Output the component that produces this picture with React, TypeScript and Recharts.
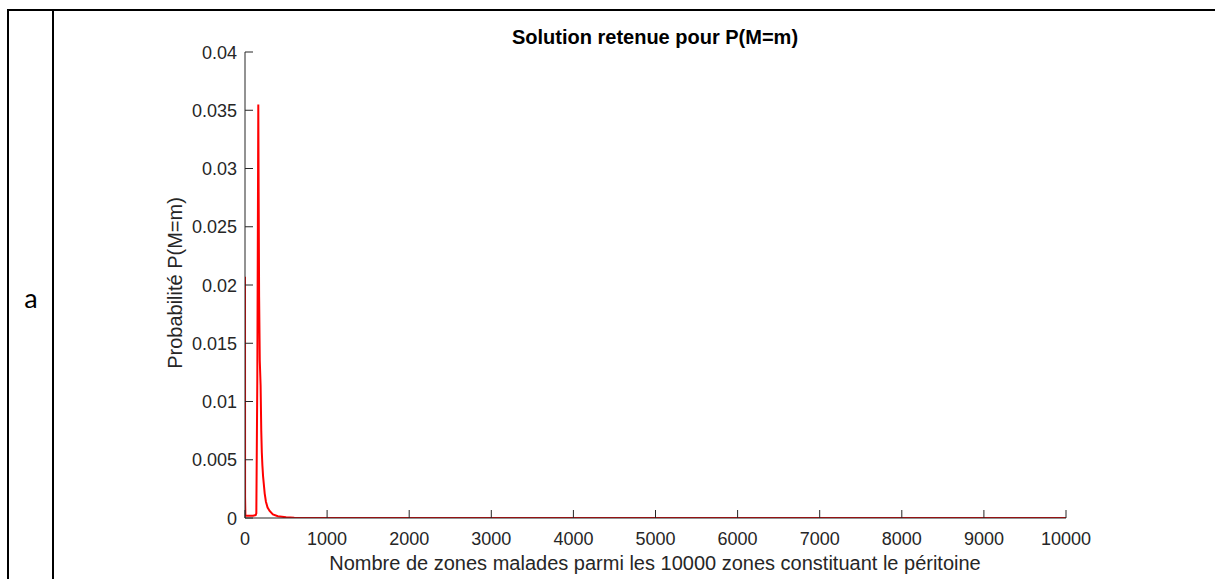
import React from 'react';
import { LineChart, Line, XAxis, YAxis } from 'recharts';

const mValues = [0, 1, 5, 30, 60, 100, 130, 138, 150, 162, 166, 172, 180, 190, 198, 205, 212, 220, 228, 240, 255, 275, 300, 340, 400, 500, 600, 800, 1000, 10000];
const pValues = [0.0207, 0.0018, 0.0002, 0.0002, 0.0002, 0.0002, 0.00025, 0.0004, 0.012, 0.0355, 0.028, 0.019, 0.0135, 0.0114, 0.0075, 0.0056, 0.0045, 0.0036, 0.003, 0.0021, 0.0014, 0.0009, 0.0006, 0.0003, 0.00015, 0.00006, 0.00003, 0.00001, 0, 0];

const xTicks = [0, 1000, 2000, 3000, 4000, 5000, 6000, 7000, 8000, 9000, 10000];
const yTicks = [0, 0.005, 0.01, 0.015, 0.02, 0.025, 0.03, 0.035, 0.04];
const yTickLabels = ['0', '0.005', '0.01', '0.015', '0.02', '0.025', '0.03', '0.035', '0.04'];

const titleText = 'Solution retenue pour P(M=m)';
const xLabelText = 'Nombre de zones malades parmi les 10000 zones constituant le péritoine';
const yLabelText = 'Probabilité P(M=m)';
const rowLabel = 'a';

const data = mValues.map((m, i) => ({ m, p: pValues[i] }));

const AXIS = '#262626';
const FONT = '"Liberation Sans", Arial, Helvetica, sans-serif';

const YTick = (props: any) => {
  const { x, y, payload } = props;
  const idx = yTicks.indexOf(payload.value);
  const label = idx >= 0 ? yTickLabels[idx] : String(payload.value);
  return (
    <g>
      <line x1={x + 8} x2={x + 16} y1={y} y2={y} stroke={AXIS} strokeWidth={1} />
      <text x={x} y={y} dy={6.5} textAnchor="end" fill={AXIS} fontSize={18} fontFamily={FONT}>
        {label}
      </text>
    </g>
  );
};

const XTick = (props: any) => {
  const { x, y, payload } = props;
  return (
    <g>
      <line x1={x} x2={x} y1={y - 6} y2={y - 14} stroke={AXIS} strokeWidth={1} />
      <text x={x} y={y + 21} textAnchor="middle" fill={AXIS} fontSize={18} fontFamily={FONT}>
        {String(payload.value)}
      </text>
    </g>
  );
};

export default function App() {
  return (
    <>
      <div style={{ position: 'absolute', left: 0, top: 0, width: 1215, height: 579, background: '#fff' }} />
      <div style={{ position: 'absolute', left: 0, top: 0, width: 1215, height: 579 }}>
        <LineChart
          width={1215}
          height={579}
          data={data}
          margin={{ top: 52, right: 149, bottom: 0, left: 185 }}
        >
          <XAxis
            type="number"
            dataKey="m"
            domain={[0, 10000]}
            ticks={xTicks}
            interval={0}
            tickSize={0}
            tickMargin={6}
            height={61}
            tick={<XTick />}
            axisLine={{ stroke: AXIS, strokeWidth: 1 }}
            allowDataOverflow
          />
          <YAxis
            type="number"
            dataKey="p"
            domain={[0, 0.04]}
            ticks={yTicks}
            interval={0}
            tickSize={0}
            tickMargin={8}
            width={60}
            tick={<YTick />}
            axisLine={{ stroke: AXIS, strokeWidth: 1 }}
            allowDataOverflow
          />
          <Line
            type="linear"
            dataKey="p"
            stroke="#ff0000"
            strokeWidth={2}
            dot={false}
            isAnimationActive={false}
          />
        </LineChart>
      </div>
      <div
        style={{
          position: 'absolute', left: 405, top: 25, width: 500, textAlign: 'center',
          fontFamily: FONT, fontWeight: 'bold', fontSize: 20, color: '#000', lineHeight: '24px',
        }}
      >
        {titleText}
      </div>
      <div
        style={{
          position: 'absolute', left: 205, top: 551, width: 900, textAlign: 'center',
          fontFamily: FONT, fontSize: 20, color: AXIS, lineHeight: '24px', whiteSpace: 'nowrap',
        }}
      >
        {xLabelText}
      </div>
      <div
        style={{
          position: 'absolute', left: 175 - 150, top: 283 - 12, width: 300, textAlign: 'center',
          fontFamily: FONT, fontSize: 20, color: AXIS, lineHeight: '24px', whiteSpace: 'nowrap',
          transform: 'rotate(-90deg)', transformOrigin: '150px 12px',
        }}
      >
        {yLabelText}
      </div>
      <div
        style={{
          position: 'absolute', left: 16, top: 282, width: 30, textAlign: 'center',
          fontFamily: 'Lato, "Open Sans", sans-serif', fontSize: 27, color: '#000', lineHeight: '32px',
        }}
      >
        {rowLabel}
      </div>
      <div style={{ position: 'absolute', left: 7, top: 9, width: 1208, height: 2, background: '#000' }} />
      <div style={{ position: 'absolute', left: 7, top: 9, width: 2, height: 570, background: '#000' }} />
      <div style={{ position: 'absolute', left: 52, top: 9, width: 2, height: 570, background: '#000' }} />
    </>
  );
}
